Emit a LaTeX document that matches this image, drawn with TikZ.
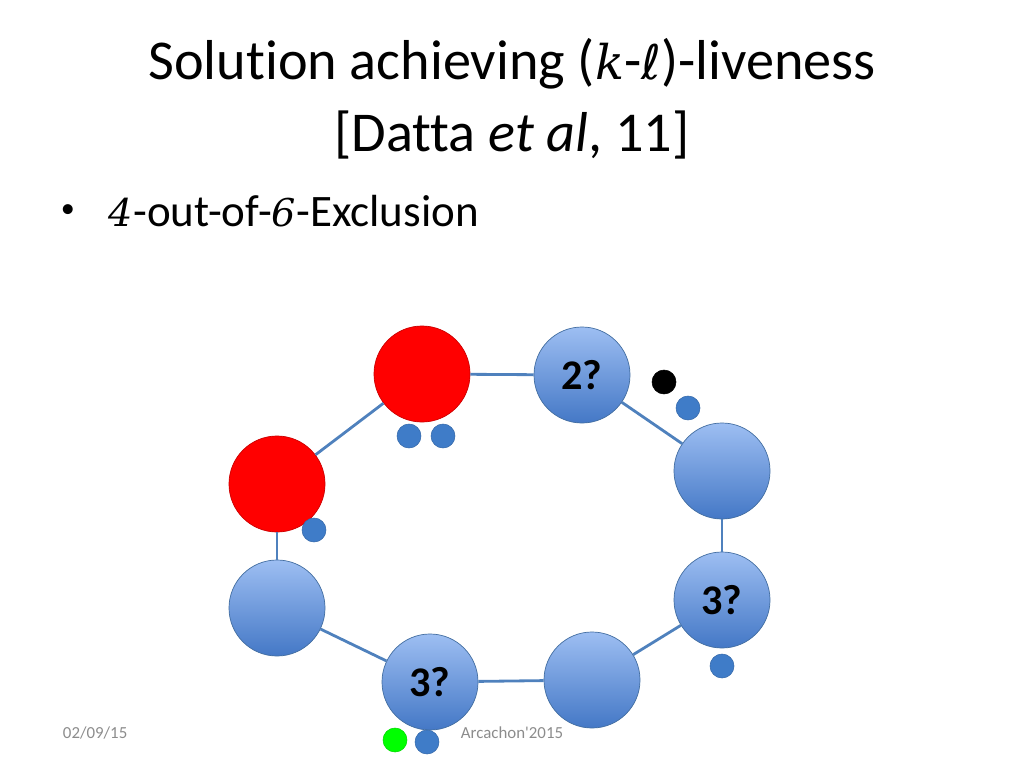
\documentclass[tikz,border=0pt]{standalone}
\usepackage{fontspec}
\setmainfont{Carlito}[Ligatures=NoCommon]
\newfontfamily\handfont{DejaVu Serif}[Scale=0.85]
\newfontfamily\ellfont{DejaVu Sans}[Scale=0.85]
\usetikzlibrary{positioning}

\definecolor{ringblue}{HTML}{4F81BD}
\definecolor{lightblue}{HTML}{9DBEF2}
\definecolor{darkblue}{HTML}{4478C6}
\definecolor{dotblue}{HTML}{3F7CC8}
\definecolor{footgray}{HTML}{8C8C8C}

\tikzset{
        proc/.style = {circle, draw=ringblue!85!black, line width=0.5pt,
            minimum size=2.4cm, inner sep=0pt,
            top color=lightblue, bottom color=darkblue,
            font=\fontsize{30}{36}\selectfont\bfseries},
        busy/.style = {circle, draw=red!80!black, line width=0.5pt,
            minimum size=2.4cm, inner sep=0pt, fill=red},
        token/.style = {circle, fill=#1, draw=#1!85!black, line width=0.4pt,
            minimum size=0.6cm, inner sep=0pt},
        token/.default = dotblue,
        link/.style = {ringblue, line width=2pt},
        foot/.style = {footgray, font=\fontsize{12}{14}\selectfont}
    }

\begin{document}
\begin{tikzpicture}[x=0.025cm, y=-0.025cm]
            \useasboundingbox (0,0) rectangle (1024,768);

            % title and bullet
            \node[font=\fontsize{40}{48}\selectfont] (title) at (512,64) {Solution achieving ({\handfont\itshape k}-{\ellfont ℓ})-liveness};
            \node[font=\fontsize{40}{48}\selectfont] (cite) at (512,135) {[Datta \textit{et al}, 11]};
            \node[font=\fontsize{20}{24}\selectfont] (bullet) at (68,211) {\textbullet};
            \node[anchor=west, font=\fontsize{32}{38}\selectfont] (item) at (104,211) {{\handfont\itshape 4}-out-of-{\handfont\itshape 6}-Exclusion};

            % the ring of processes
            \node[busy] (p1) at (277,484) {};
            \node[busy] (p2) at (422,374) {};
            \node[proc] (p3) at (582,375) {2?};
            \node[proc] (p4) at (722,471) {};
            \node[proc] (p5) at (722,600) {3?};
            \node[proc] (p6) at (592,680) {};
            \node[proc] (p7) at (430,682) {3?};
            \node[proc] (p8) at (277,608) {};

            \foreach \u/\v in {p1/p2,p2/p3,p3/p4,p4/p5,p5/p6,p6/p7,p7/p8,p8/p1} {
                \draw[link] (\u) -- (\v);
            };

            % tokens
            \node[token] (t1) at (409,436) {};
            \node[token] (t2) at (443,436) {};
            \node[token] (t3) at (314,530) {};
            \node[token=black] (t4) at (664,382) {};
            \node[token] (t5) at (688,408) {};
            \node[token] (t6) at (722,666) {};
            \node[token=green] (t7) at (395,740) {};
            \node[token] (t8) at (427,742) {};

            % footer
            \node[foot, anchor=west] (date) at (58,733) {02/09/15};
            \node[foot] (venue) at (512,733) {Arcachon\textquotesingle 2015};

        \end{tikzpicture}
\end{document}
